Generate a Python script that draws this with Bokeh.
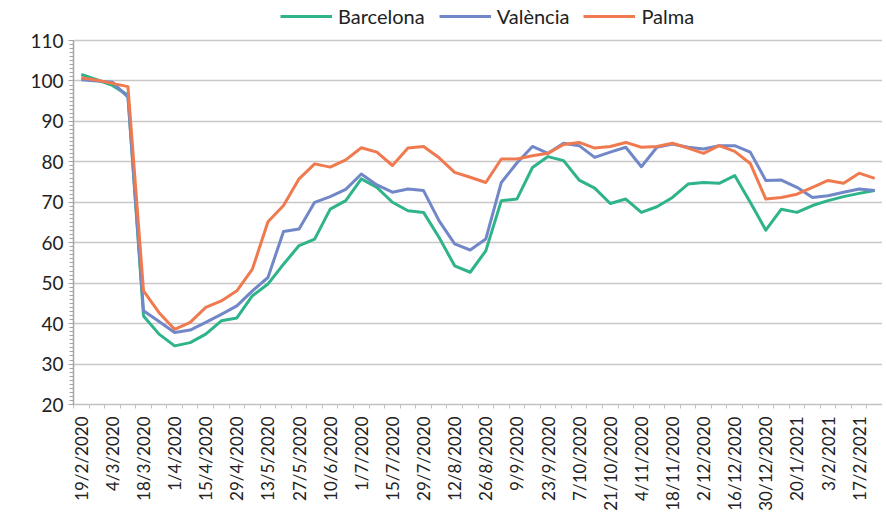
import math
from bokeh.plotting import figure
from bokeh.models import FixedTicker, Legend, LegendItem, Range1d
from bokeh.embed import file_html
from bokeh.resources import INLINE

dates = ["19/2/2020", "26/2/2020", "4/3/2020", "11/3/2020", "18/3/2020", "25/3/2020",
         "1/4/2020", "8/4/2020", "15/4/2020", "22/4/2020", "29/4/2020", "6/5/2020",
         "13/5/2020", "20/5/2020", "27/5/2020", "3/6/2020", "10/6/2020", "17/6/2020",
         "1/7/2020", "8/7/2020", "15/7/2020", "22/7/2020", "29/7/2020", "5/8/2020",
         "12/8/2020", "19/8/2020", "26/8/2020", "2/9/2020", "9/9/2020", "16/9/2020",
         "23/9/2020", "30/9/2020", "7/10/2020", "14/10/2020", "21/10/2020", "28/10/2020",
         "4/11/2020", "11/11/2020", "18/11/2020", "25/11/2020", "2/12/2020", "9/12/2020",
         "16/12/2020", "23/12/2020", "30/12/2020", "13/1/2021", "20/1/2021", "27/1/2021",
         "3/2/2021", "10/2/2021", "17/2/2021", "24/2/2021"]

barcelona = [101.6, 100.3, 98.9, 96.5, 41.9, 37.4, 34.5, 35.3, 37.4, 40.7, 41.4, 46.9,
             49.8, 54.7, 59.3, 60.9, 68.3, 70.4, 75.8, 73.7, 70.0, 67.9, 67.5, 61.3,
             54.3, 52.7, 58.0, 70.4, 70.8, 78.6, 81.3, 80.3, 75.5, 73.5, 69.7, 70.8,
             67.5, 68.9, 71.2, 74.5, 74.9, 74.7, 76.6, 70.0, 63.1, 68.3, 67.5, 69.2,
             70.4, 71.4, 72.2, 72.9]

valencia = [100.3, 100.0, 99.7, 96.0, 43.2, 40.5, 37.8, 38.4, 40.3, 42.3, 44.4, 48.1,
            51.4, 62.8, 63.4, 70.0, 71.4, 73.2, 77.0, 74.3, 72.5, 73.3, 72.9, 65.4,
            59.7, 58.2, 60.9, 74.9, 79.7, 83.8, 82.1, 84.6, 84.0, 81.1, 82.4, 83.6,
            78.8, 83.6, 84.4, 83.6, 83.2, 84.0, 84.0, 82.4, 75.4, 75.5, 73.7, 71.2,
            71.6, 72.5, 73.3, 72.9]

palma = [100.8, 100.2, 99.4, 98.6, 48.1, 42.7, 38.6, 40.3, 44.0, 45.6, 48.1, 53.5,
         65.2, 69.2, 75.8, 79.5, 78.7, 80.5, 83.5, 82.4, 79.1, 83.4, 83.8, 81.0,
         77.4, 76.2, 74.9, 80.7, 80.7, 81.5, 82.1, 84.3, 84.8, 83.4, 83.8, 84.8,
         83.6, 83.8, 84.6, 83.4, 82.1, 84.0, 82.6, 79.6, 70.8, 71.2, 72.0, 73.7,
         75.4, 74.7, 77.2, 75.9]

series_names = ["Barcelona", "València", "Palma"]
series_colors = ["#2fb38b", "#7187c7", "#f07a4f"]
y_ticks = list(range(20, 111, 10))

FONT = "Lato"
TXT = "#222222"

x = list(range(len(dates)))

# extra headroom above 110 holds the legend (axis line is bounded to 20..110)
p = figure(width=882, height=513, output_backend="svg", toolbar_location=None,
           x_range=Range1d(-0.5, len(dates) - 0.5), y_range=Range1d(20, 118.66),
           min_border_left=73, min_border_right=0, min_border_top=5,
           min_border_bottom=109)
p.outline_line_color = None
p.background_fill_color = "white"
p.border_fill_color = "white"

renderers = []
for ys, c in zip([barcelona, valencia, palma], series_colors):
    r = p.line(x, ys, line_color=c, line_width=3, line_join="round")
    renderers.append(r)

# y axis
p.yaxis.bounds = (20, 110)
p.yaxis.ticker = FixedTicker(ticks=y_ticks, minor_ticks=list(range(20, 111, 1)))
p.yaxis.axis_line_color = "#a8a4a4"
p.yaxis.axis_line_width = 1.5
p.yaxis.major_tick_line_color = "#a8a4a4"
p.yaxis.minor_tick_line_color = "#a8a4a4"
p.yaxis.major_tick_in = 0
p.yaxis.major_tick_out = 5
p.yaxis.minor_tick_in = 0
p.yaxis.minor_tick_out = 4
p.yaxis.major_label_text_font = FONT
p.yaxis.major_label_text_font_size = "19px"
p.yaxis.major_label_text_color = TXT
p.yaxis.major_label_standoff = 5

# x axis
even = list(range(0, len(dates), 2))
p.xaxis.ticker = FixedTicker(ticks=even, minor_ticks=[i - 0.5 for i in range(len(dates) + 1)])
p.xaxis.major_label_overrides = {i: dates[i] for i in even}
p.xaxis.major_label_orientation = math.pi / 2
p.xaxis.axis_line_color = "#c4c0c0"
p.xaxis.axis_line_width = 1.5
p.xaxis.major_tick_line_color = "#c4c0c0"
p.xaxis.minor_tick_line_color = "#c4c0c0"
p.xaxis.major_tick_in = 0
p.xaxis.major_tick_out = 0
p.xaxis.minor_tick_in = 0
p.xaxis.minor_tick_out = 4
p.xaxis.major_label_text_font = FONT
p.xaxis.major_label_text_font_size = "17px"
p.xaxis.major_label_text_color = TXT
p.xaxis.major_label_standoff = 8

p.xgrid.visible = False
p.ygrid.grid_line_color = "#cbc7c7"
p.ygrid.grid_line_width = 1.5

legend = Legend(items=[LegendItem(label=n, renderers=[r]) for n, r in zip(series_names, renderers)],
                orientation="horizontal", location=(207, 376),
                label_text_font=FONT, label_text_font_size="20px", label_text_color=TXT,
                glyph_width=52, glyph_height=20, label_standoff=6, spacing=14,
                border_line_color=None, background_fill_alpha=0, padding=0, margin=0)
p.add_layout(legend, "center")

open("out.html", "w").write(file_html(p, INLINE))
